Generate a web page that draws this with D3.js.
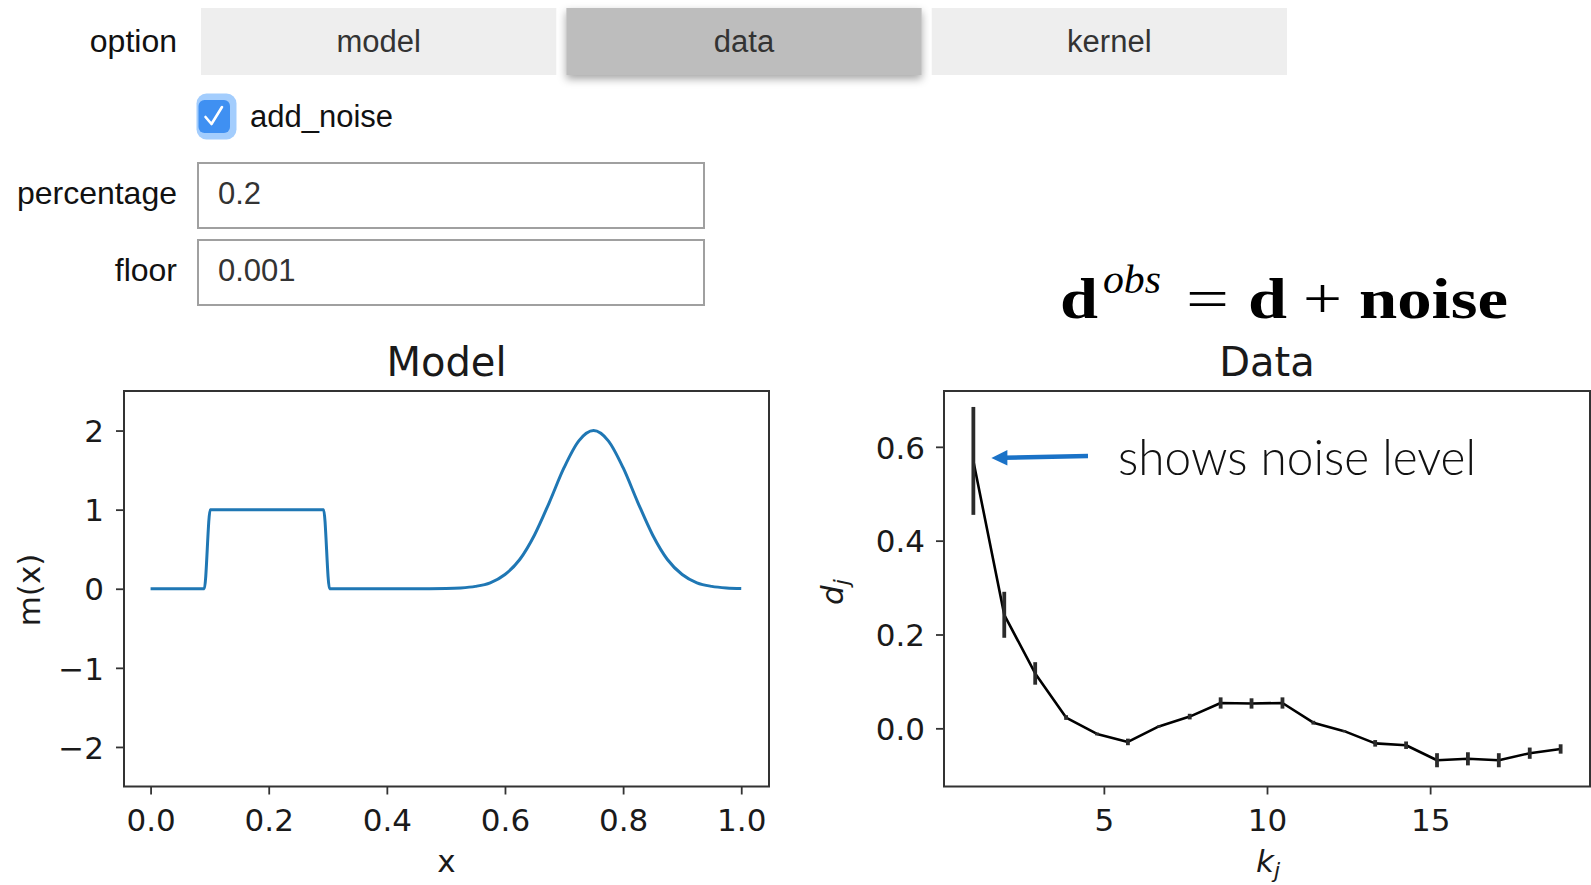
<!DOCTYPE html>
<html>
<head>
<meta charset="utf-8">
<script src="https://cdn.jsdelivr.net/npm/d3@7"></script>
<style>
  html, body { margin: 0; padding: 0; background: #fff; }
  svg { display: block; }
</style>
</head>
<body>
<svg id="fig" width="1591" height="885"></svg>
<script>
// ---- widget state ----
const optionButtons = ["model", "data", "kernel"];
const activeOption = "data";
const noiseFieldLabels = ["percentage", "floor"];
const noiseFieldValues = ["0.2", "0.001"];

// ---- model m(x): box from ~0.1 to ~0.3 plus a Gaussian bump at 0.75 ----
const modelX = [0, 0.0909, 0.101, 0.2929, 0.303, 0.45, 0.5, 0.525, 0.55, 0.575, 0.6, 0.625, 0.65,
                0.675, 0.7, 0.725, 0.75, 0.775, 0.8, 0.825, 0.85, 0.875, 0.9, 0.925, 0.95, 0.975, 1.0];
const modelM = [0, 0, 1, 1, 0, 0, 0.003, 0.01, 0.03, 0.075, 0.18, 0.37, 0.68,
                1.09, 1.53, 1.87, 2.0, 1.87, 1.53, 1.09, 0.68, 0.37, 0.18, 0.075, 0.03, 0.01, 0.003];
const modelXTicks = [0, 0.2, 0.4, 0.6, 0.8, 1.0];
const modelYTicks = [-2, -1, 0, 1, 2];

// ---- observed data d_j at wavenumbers k_j with error bars ----
const kj = [1, 1.947, 2.895, 3.842, 4.789, 5.737, 6.684, 7.632, 8.579, 9.526,
            10.474, 11.421, 12.368, 13.316, 14.263, 15.211, 16.158, 17.105, 18.053, 19];
const dj = [0.570, 0.242, 0.117, 0.023, -0.012, -0.029, 0.004, 0.025, 0.054, 0.053,
            0.054, 0.012, -0.006, -0.032, -0.036, -0.068, -0.065, -0.068, -0.053, -0.044];
const djErr = [0.115, 0.049, 0.024, 0.005, 0.003, 0.007, 0.002, 0.006, 0.012, 0.011,
               0.012, 0.004, 0.002, 0.007, 0.008, 0.015, 0.014, 0.015, 0.012, 0.010];
const dataXTicks = [5, 10, 15];
const dataYTicks = [0, 0.2, 0.4, 0.6];

const svg = d3.select("#fig");
const UI_FONT = "'Liberation Sans', Arial, Helvetica, sans-serif";
const MPL_FONT = "'DejaVu Sans', sans-serif";

// ================= widget panel =================
const defs = svg.append("defs");
const shadow = defs.append("filter").attr("id", "btnShadow")
  .attr("x", "-10%").attr("y", "-20%").attr("width", "120%").attr("height", "170%");
shadow.append("feDropShadow").attr("dx", 0).attr("dy", 4).attr("stdDeviation", 4.5)
  .attr("flood-color", "#000").attr("flood-opacity", 0.35);

svg.append("text").attr("x", 177).attr("y", 52).attr("text-anchor", "end")
  .attr("font-family", UI_FONT).attr("font-size", 32).attr("fill", "#111").text("option");

const btnX = d3.scaleBand().domain(optionButtons).range([201, 1287]).paddingInner(0.0274).paddingOuter(0);
const btn = svg.append("g").selectAll("g").data(optionButtons).join("g")
  .attr("transform", d => `translate(${btnX(d)},8)`);
btn.append("rect").attr("width", btnX.bandwidth()).attr("height", 67)
  .attr("fill", d => d === activeOption ? "#bdbdbd" : "#eeeeee")
  .attr("filter", d => d === activeOption ? "url(#btnShadow)" : null);
btn.append("text").attr("x", btnX.bandwidth() / 2).attr("y", 44).attr("text-anchor", "middle")
  .attr("font-family", UI_FONT).attr("font-size", 31).attr("fill", "#333").text(d => d);

// checkbox
const cb = svg.append("g");
cb.append("rect").attr("x", 196.5).attr("y", 93.5).attr("width", 40).attr("height", 46)
  .attr("rx", 10).attr("fill", "#a3cdfd");
cb.append("rect").attr("x", 198.5).attr("y", 100).attr("width", 31.5).attr("height", 33)
  .attr("rx", 6).attr("fill", "#3f90f2");
cb.append("path").attr("d", "M205.5,117 L211.5,124 L222,107")
  .attr("fill", "none").attr("stroke", "#fff").attr("stroke-width", 2.6)
  .attr("stroke-linecap", "round").attr("stroke-linejoin", "round");
svg.append("text").attr("x", 250).attr("y", 127)
  .attr("font-family", UI_FONT).attr("font-size", 31).attr("fill", "#111").text("add_noise");

// text fields
const fieldY = d3.scalePoint().domain(noiseFieldLabels).range([163, 240]);
const fld = svg.append("g").selectAll("g").data(noiseFieldLabels).join("g")
  .attr("transform", d => `translate(0,${fieldY(d)})`);
fld.append("text").attr("x", 177).attr("y", 41).attr("text-anchor", "end")
  .attr("font-family", UI_FONT).attr("font-size", 32).attr("fill", "#111").text(d => d);
fld.append("rect").attr("x", 198).attr("y", 0).attr("width", 506).attr("height", 65)
  .attr("fill", "#fff").attr("stroke", "#a0a0a0").attr("stroke-width", 2);
fld.append("text").attr("x", 218).attr("y", 41)
  .attr("font-family", UI_FONT).attr("font-size", 31).attr("fill", "#333")
  .text((d, i) => noiseFieldValues[i]);

// ================= equation =================
const eq = svg.append("g").attr("fill", "#000");
function eqPiece(txt, x, y, size, len, opts = {}) {
  eq.append("text").attr("x", x).attr("y", y)
    .attr("font-family", "'Liberation Serif', 'Times New Roman', serif")
    .attr("font-size", size)
    .attr("font-weight", opts.bold ? "bold" : "normal")
    .attr("font-style", opts.italic ? "italic" : "normal")
    .attr("textLength", len).attr("lengthAdjust", "spacingAndGlyphs")
    .text(txt);
}
eqPiece("d", 1060, 318, 58, 38, { bold: true });
eqPiece("obs", 1103, 293, 40, 58, { italic: true });
eqPiece("=", 1186, 318, 58, 43);
eqPiece("d", 1248, 318, 58, 39, { bold: true });
eqPiece("+", 1303, 318, 58, 39);
eqPiece("noise", 1359, 318, 58, 149, { bold: true });

// ================= shared axis styling =================
function styleAxis(g) {
  g.select(".domain").remove();
  g.selectAll(".tick line").attr("stroke", "#333").attr("stroke-width", 1.8);
  g.selectAll(".tick text").attr("font-family", MPL_FONT).attr("font-size", 31).attr("fill", "#1a1a1a");
}
function frame(g, w, h) {
  g.append("rect").attr("x", 0).attr("y", 0).attr("width", w).attr("height", h)
    .attr("fill", "none").attr("stroke", "#333").attr("stroke-width", 2);
}

// ================= Model panel =================
const mBox = { left: 124, top: 391, right: 769, bottom: 786.5 };
const mx = d3.scaleLinear().domain([-0.045, 1.047]).range([mBox.left, mBox.right]);
const my = d3.scaleLinear().domain([-2.5, 2.5]).range([mBox.bottom, mBox.top]);

svg.append("path")
  .attr("d", d3.line().x((d, i) => mx(modelX[i])).y(d => my(d)).curve(d3.curveMonotoneX)(modelM))
  .attr("fill", "none").attr("stroke", "#1f77b4").attr("stroke-width", 3)
  .attr("stroke-linejoin", "round");

const mxAxis = svg.append("g").attr("transform", `translate(0,${mBox.bottom})`)
  .call(d3.axisBottom(mx).tickValues(modelXTicks).tickFormat(d3.format(".1f")).tickSize(8))
  .call(styleAxis);
mxAxis.selectAll(".tick text").attr("y", 44).attr("dy", null);
const myAxis = svg.append("g").attr("transform", `translate(${mBox.left},0)`)
  .call(d3.axisLeft(my).tickValues(modelYTicks).tickFormat(d3.format("d")).tickSize(8))
  .call(styleAxis);
myAxis.selectAll(".tick text").attr("x", -20).attr("dy", "0.36em");
frame(svg.append("g").attr("transform", `translate(${mBox.left},${mBox.top})`),
      mBox.right - mBox.left, mBox.bottom - mBox.top);

svg.append("text").attr("x", (mBox.left + mBox.right) / 2).attr("y", 376).attr("text-anchor", "middle")
  .attr("font-family", MPL_FONT).attr("font-size", 40).attr("fill", "#1a1a1a").text("Model");
svg.append("text").attr("x", (mBox.left + mBox.right) / 2).attr("y", 872).attr("text-anchor", "middle")
  .attr("font-family", MPL_FONT).attr("font-size", 31).attr("fill", "#1a1a1a").text("x");
svg.append("text").attr("transform", "translate(40,590) rotate(-90)").attr("text-anchor", "middle")
  .attr("font-family", MPL_FONT).attr("font-size", 31).attr("fill", "#1a1a1a").text("m(x)");

// ================= Data panel =================
const dBox = { left: 944, top: 391, right: 1590, bottom: 786.5 };
const dx = d3.scaleLinear().domain([0.1, 19.9]).range([dBox.left, dBox.right]);
const dy = d3.scaleLinear().domain([-0.124, 0.719]).range([dBox.bottom, dBox.top]);

svg.append("path")
  .attr("d", d3.line().x((d, i) => dx(kj[i])).y(d => dy(d))(dj))
  .attr("fill", "none").attr("stroke", "#000").attr("stroke-width", 2.6)
  .attr("stroke-linejoin", "round");
svg.append("g").selectAll("line").data(dj).join("line")
  .attr("x1", (d, i) => dx(kj[i])).attr("x2", (d, i) => dx(kj[i]))
  .attr("y1", (d, i) => dy(d + djErr[i])).attr("y2", (d, i) => dy(d - djErr[i]))
  .attr("stroke", "#2b2b2b").attr("stroke-width", 3.8);

const dxAxis = svg.append("g").attr("transform", `translate(0,${dBox.bottom})`)
  .call(d3.axisBottom(dx).tickValues(dataXTicks).tickFormat(d3.format("d")).tickSize(8))
  .call(styleAxis);
dxAxis.selectAll(".tick text").attr("y", 44).attr("dy", null);
const dyAxis = svg.append("g").attr("transform", `translate(${dBox.left},0)`)
  .call(d3.axisLeft(dy).tickValues(dataYTicks).tickFormat(d3.format(".1f")).tickSize(8))
  .call(styleAxis);
dyAxis.selectAll(".tick text").attr("x", -19).attr("dy", "0.36em");
frame(svg.append("g").attr("transform", `translate(${dBox.left},${dBox.top})`),
      dBox.right - dBox.left, dBox.bottom - dBox.top);

svg.append("text").attr("x", (dBox.left + dBox.right) / 2).attr("y", 376).attr("text-anchor", "middle")
  .attr("font-family", MPL_FONT).attr("font-size", 40).attr("fill", "#1a1a1a").text("Data");

const kLabel = svg.append("text").attr("x", 1268).attr("y", 872).attr("text-anchor", "middle")
  .attr("font-family", MPL_FONT).attr("font-size", 31).attr("font-style", "oblique").attr("fill", "#1a1a1a");
kLabel.append("tspan").text("k");
kLabel.append("tspan").attr("font-size", 22).attr("dy", 6).text("j");

const dLabel = svg.append("text").attr("transform", "translate(843,592) rotate(-90)").attr("text-anchor", "middle")
  .attr("font-family", MPL_FONT).attr("font-size", 31).attr("font-style", "oblique").attr("fill", "#1a1a1a");
dLabel.append("tspan").text("d");
dLabel.append("tspan").attr("font-size", 22).attr("dy", 6).text("j");

// annotation pointing at the first error bar
const noteColor = "#1a72c7";
const arrowTip = { x: dx(kj[0]) + 18, y: 458 };
svg.append("line").attr("x1", 1088).attr("y1", 456).attr("x2", arrowTip.x + 12).attr("y2", arrowTip.y - 0.3)
  .attr("stroke", noteColor).attr("stroke-width", 4.5);
svg.append("path")
  .attr("d", `M${arrowTip.x},${arrowTip.y} L${arrowTip.x + 16},${arrowTip.y - 8} L${arrowTip.x + 16},${arrowTip.y + 7.5} Z`)
  .attr("fill", noteColor);
svg.append("text").attr("x", 1118).attr("y", 475)
  .attr("font-family", "Lato, 'Liberation Sans', sans-serif").attr("font-weight", 300)
  .attr("font-size", 49).attr("fill", "#111")
  .attr("textLength", 358).attr("lengthAdjust", "spacingAndGlyphs")
  .text("shows noise level");
</script>
</body>
</html>
